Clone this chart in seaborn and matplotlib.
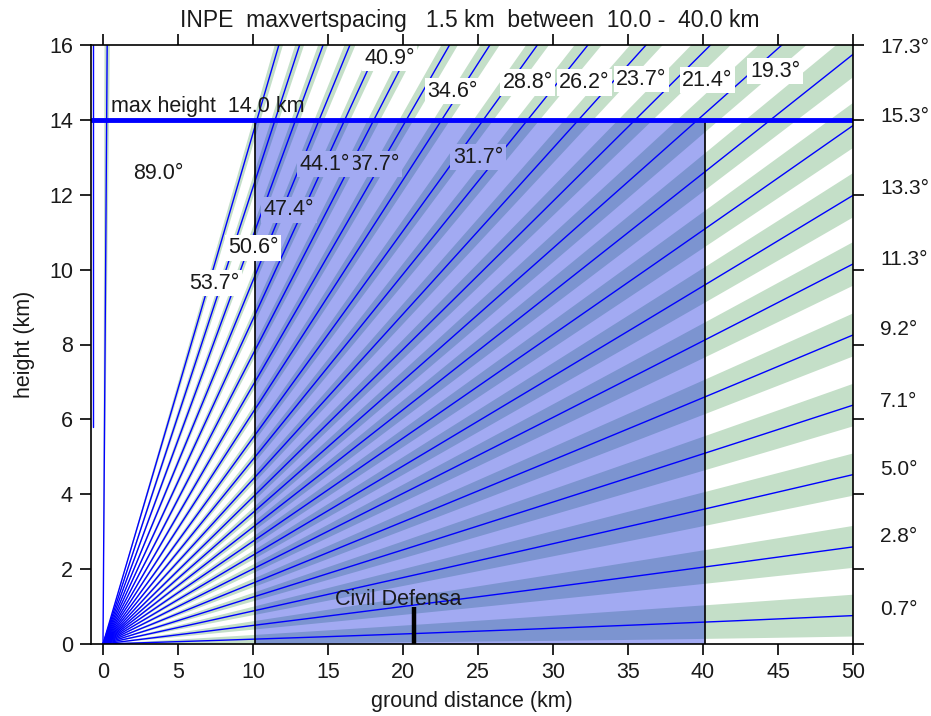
import numpy as np
import pandas as pd
import matplotlib
matplotlib.use("Agg")
import matplotlib.pyplot as plt
import seaborn as sns
from matplotlib.patches import Rectangle, Polygon

# ---------------- data ----------------
elevations = [0.7, 2.8, 5.0, 7.1, 9.2, 11.3, 13.3, 15.3, 17.3, 19.3, 21.4,
              23.7, 26.2, 28.8, 31.7, 34.6, 37.7, 40.9, 44.1, 47.4, 50.6,
              53.7, 89.0]
beam_width = 1.28          # degrees
max_height = 14.0          # km
range_min = 10.1           # km
range_max = 40.1           # km
civil_defense_x = 20.7     # km
civil_defense_h = 1.0      # km
right_labels = ["0.7°", "2.8°", "5.0°", "7.1°", "9.2°", "11.3°", "13.3°",
                "15.3°", "17.3°"]
right_label_y = [0.93, 2.86, 4.65, 6.49, 8.39, 10.26, 12.18, 14.08, 15.92]
inner_labels = ["19.3°", "21.4°", "23.7°", "26.2°", "28.8°", "34.6°", "40.9°",
                "31.7°", "37.7°", "44.1°", "47.4°", "50.6°", "53.7°", "89.0°"]
inner_label_x = [44.8, 40.3, 35.9, 32.1, 28.3, 23.3, 19.1,
                 25.0, 18.1, 14.8, 12.4, 10.0, 7.4, 3.7]
inner_label_y = [15.30, 15.06, 15.09, 15.0, 15.0, 14.77, 15.65,
                 13.0, 12.82, 12.82, 11.6, 10.58, 9.64, 12.58]
inner_label_bg = ["white"] * 7 + ["blue"] * 4 + ["white"] * 3
x_ticks = [0, 5, 10, 15, 20, 25, 30, 35, 40, 45, 50]
y_ticks = [0, 2, 4, 6, 8, 10, 12, 14, 16]

RE = 4.0 / 3.0 * 6371.0


def beam_path(theta_deg, rmax=80.0, n=600):
    r = np.linspace(0, rmax, n)
    th = np.radians(theta_deg)
    h = np.sqrt(r ** 2 + RE ** 2 + 2 * r * RE * np.sin(th)) - RE
    s = RE * np.arcsin(r * np.cos(th) / (RE + h))
    return s, h


# long table for seaborn
rows = []
for e in elevations:
    s, h = beam_path(e)
    rows.append(pd.DataFrame({"dist": s, "height": h, "elev": e}))
df = pd.concat(rows, ignore_index=True)

# ---------------- figure ----------------
sns.set_theme(style="ticks")
plt.rcParams["font.family"] = ["Liberation Sans", "DejaVu Sans"]
FS = 15.5
TXT = "#1a1a1a"
fig = plt.figure(figsize=(9.31, 7.16), dpi=100)
ax = fig.add_axes([91 / 931, 1 - 644 / 716, (853 - 91) / 931, (644 - 45) / 716])
ax.set_facecolor("white")

GREEN = "#C4DFC8"
LIGHTBLUE = "#A2AAF2"
DARKBLUE = "#7C94D0"

# beam bands (green everywhere)
for e in elevations:
    s1, h1 = beam_path(e - beam_width / 2)
    s2, h2 = beam_path(e + beam_width / 2)
    pts = np.column_stack([np.concatenate([s1, s2[::-1]]),
                           np.concatenate([h1, h2[::-1]])])
    ax.add_patch(Polygon(pts, closed=True, fc=GREEN, ec="none", zorder=1))

# coverage box
box = Rectangle((range_min, 0), range_max - range_min, max_height,
                fc=LIGHTBLUE, ec="none", zorder=2)
ax.add_patch(box)
for e in elevations:
    s1, h1 = beam_path(e - beam_width / 2)
    s2, h2 = beam_path(e + beam_width / 2)
    pts = np.column_stack([np.concatenate([s1, s2[::-1]]),
                           np.concatenate([h1, h2[::-1]])])
    p = Polygon(pts, closed=True, fc=DARKBLUE, ec="none", zorder=3)
    ax.add_patch(p)
    p.set_clip_path(box)

# beam centre lines
sns.lineplot(data=df, x="dist", y="height", hue="elev", units="elev",
             estimator=None, sort=False, legend=False,
             palette=["#0000FF"] * len(elevations), linewidth=1.0,
             ax=ax, zorder=4)

# small artifact line near left spine
ax.plot([-0.65, -0.65], [5.8, 16], color="#0000FF", lw=1.0, zorder=4)

# range limits
ax.plot([range_min, range_min], [0, max_height], color="black", lw=1.2, zorder=5)
ax.plot([range_max, range_max], [0, max_height], color="black", lw=1.2, zorder=5)

# max height line
ax.axhline(max_height, color="#0000FF", lw=3.5, zorder=6)
ax.text(0.53, max_height + 0.08, "max height  14.0 km", fontsize=FS,
        ha="left", va="bottom", zorder=7, color=TXT)

# civil defense marker
ax.plot([civil_defense_x, civil_defense_x], [0, civil_defense_h],
        color="black", lw=3.2, zorder=7, solid_capstyle="butt")
ax.text(civil_defense_x - 1.0, civil_defense_h - 0.08, "Civil Defensa",
        fontsize=FS, ha="center", va="bottom", zorder=7, color=TXT)

# angle labels inside
for lab, x, y, bg in zip(inner_labels, inner_label_x, inner_label_y, inner_label_bg):
    if lab == "89.0°":
        bbox = None
    else:
        fc = "white" if bg == "white" else LIGHTBLUE
        bbox = dict(boxstyle="square,pad=0.12", fc=fc, ec="none")
    ax.text(x, y, lab, fontsize=FS, ha="center", va="center", zorder=8,
            bbox=bbox, color=TXT)

# angle labels on the right
for lab, y in zip(right_labels, right_label_y):
    ax.text(51.8, y, lab, fontsize=15, ha="left", va="center",
            clip_on=False, color=TXT)

ax.set_xlim(-0.8, 50)
ax.set_ylim(0, 16)
ax.set_xticks(x_ticks)
ax.set_yticks(y_ticks)
ax.tick_params(direction="out", length=8, width=1.2, color="black",
               labelsize=FS, labelcolor=TXT, top=True, right=True,
               labeltop=False, labelright=False, pad=5)
for sp in ax.spines.values():
    sp.set_visible(True)
    sp.set_color("black")
    sp.set_linewidth(1.2)
    sp.set_zorder(10)
ax.set_xlabel("ground distance (km)", fontsize=FS, labelpad=6, color=TXT)
ax.set_ylabel("height (km)", fontsize=FS, labelpad=10, color=TXT)

fig.text(470 / 931, 1 - 20 / 716,
         "INPE  maxvertspacing   1.5 km  between  10.0 -  40.0 km",
         ha="center", va="center", fontsize=16.5, color=TXT)

fig.savefig("out.png", dpi=100)
